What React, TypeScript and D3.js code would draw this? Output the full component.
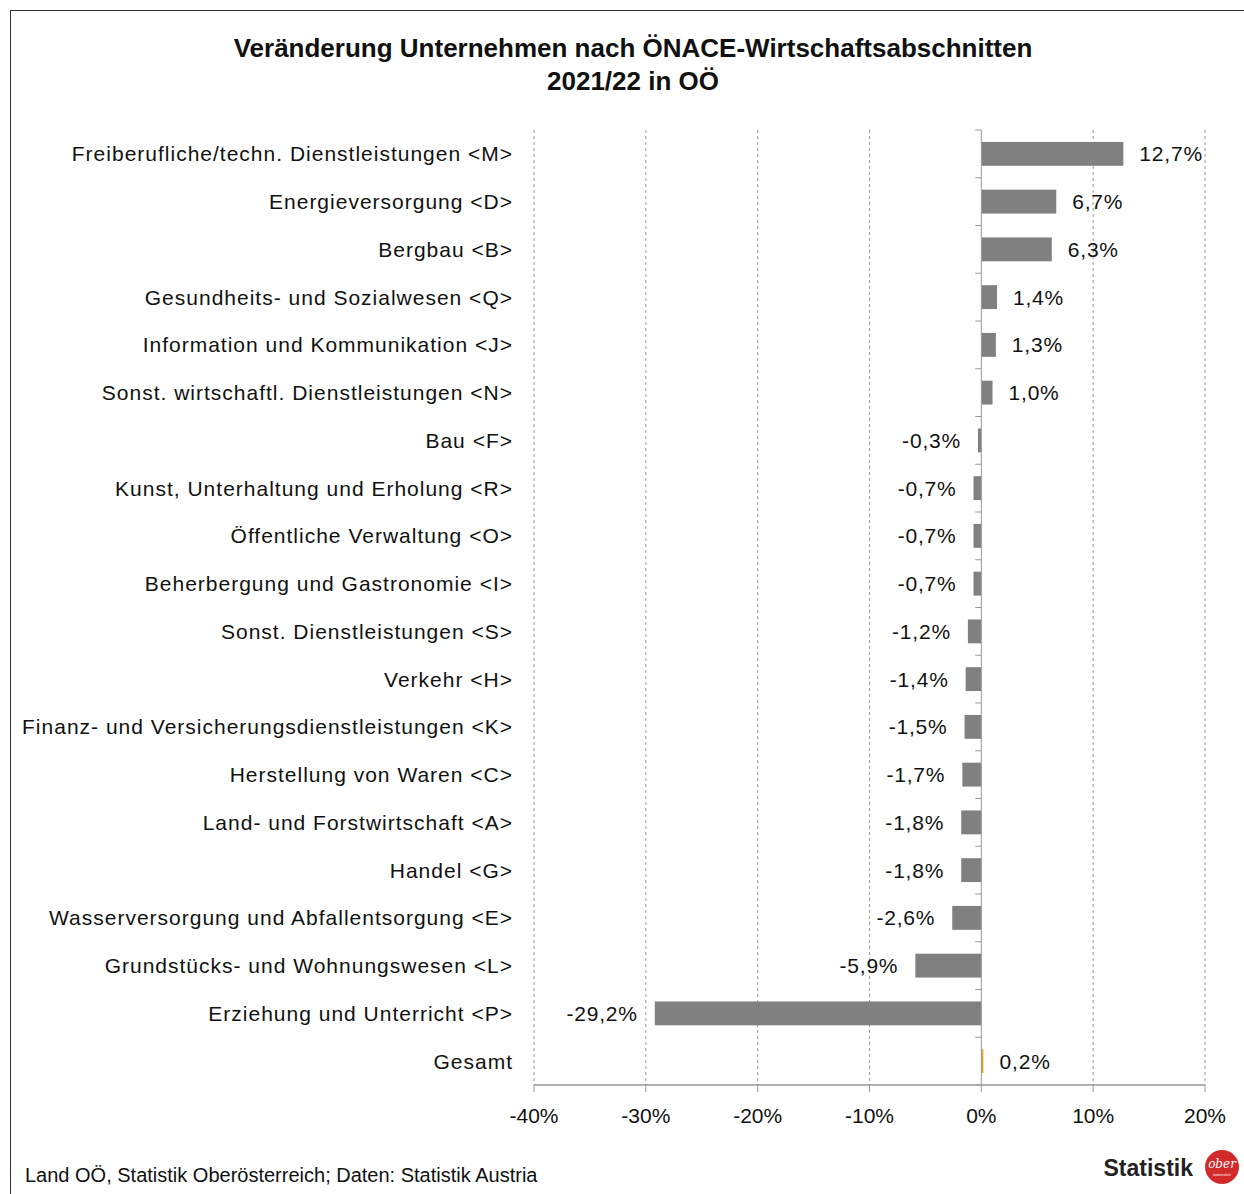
import React from 'react';
import * as d3 from 'd3';

// categories (top to bottom) and their change in percent
const categories = [
  'Freiberufliche/techn. Dienstleistungen <M>',
  'Energieversorgung <D>',
  'Bergbau <B>',
  'Gesundheits- und Sozialwesen <Q>',
  'Information und Kommunikation <J>',
  'Sonst. wirtschaftl. Dienstleistungen <N>',
  'Bau <F>',
  'Kunst, Unterhaltung und Erholung <R>',
  'Öffentliche Verwaltung <O>',
  'Beherbergung und Gastronomie <I>',
  'Sonst. Dienstleistungen <S>',
  'Verkehr <H>',
  'Finanz- und Versicherungsdienstleistungen <K>',
  'Herstellung von Waren <C>',
  'Land- und Forstwirtschaft <A>',
  'Handel <G>',
  'Wasserversorgung und Abfallentsorgung <E>',
  'Grundstücks- und Wohnungswesen <L>',
  'Erziehung und Unterricht <P>',
  'Gesamt',
];
const values = [12.7, 6.7, 6.3, 1.4, 1.3, 1.0, -0.3, -0.7, -0.7, -0.7, -1.2, -1.4, -1.5, -1.7, -1.8, -1.8, -2.6, -5.9, -29.2, 0.2];
const xTicks = [-40, -30, -20, -10, 0, 10, 20];

const W = 1244;
const H = 1194;
const font = '"Liberation Sans", Arial, sans-serif';

export default function App() {
  const x = d3.scaleLinear().domain([-40, 20]).range([534, 1205]);
  const y = d3.scaleBand().domain(categories).range([130, 1085]).paddingInner(0.5).paddingOuter(0.25);
  const fmt = (v: number) => v.toFixed(1).replace('.', ',') + '%';
  const x0 = x(0);
  const yBottom = 1085;

  return (
    <svg width={W} height={H} style={{ position: 'absolute', left: 0, top: 0, background: '#fff' }}>
      <rect x={10.5} y={10.5} width={W + 10} height={H + 10} fill="#fff" stroke="#333" strokeWidth={1} />
      <text x={633} y={57} textAnchor="middle" fontFamily={font} fontWeight="bold" fontSize={26} fill="#111">
        Veränderung Unternehmen nach ÖNACE-Wirtschaftsabschnitten
      </text>
      <text x={633} y={90} textAnchor="middle" fontFamily={font} fontWeight="bold" fontSize={26} fill="#111">
        2021/22 in OÖ
      </text>

      {/* vertical dashed gridlines */}
      {xTicks.filter(t => t !== 0).map(t => (
        <line key={t} x1={x(t)} x2={x(t)} y1={130} y2={yBottom} stroke="#999" strokeDasharray="3,3" strokeWidth={1} />
      ))}

      {/* bars */}
      {categories.map((c, i) => {
        const v = values[i];
        const isTotal = c === 'Gesamt';
        const bx = Math.min(x(v), x0);
        const bw = Math.max(Math.abs(x(v) - x0), 1);
        return (
          <rect key={c} x={bx} y={y(c)} width={isTotal ? 2 : bw} height={y.bandwidth()} fill={isTotal ? '#E8A317' : '#808080'} />
        );
      })}

      {/* value labels */}
      {categories.map((c, i) => {
        const v = values[i];
        const cy = (y(c) as number) + y.bandwidth() / 2;
        return (
          <text key={c} x={v >= 0 ? x(v) + 16 : x(v) - 17} y={cy} dy="0.36em" textAnchor={v >= 0 ? 'start' : 'end'}
            fontFamily={font} fontSize={21} letterSpacing={0.8} fill="#111">
            {fmt(v)}
          </text>
        );
      })}

      {/* category axis */}
      <line x1={x0} x2={x0} y1={130} y2={yBottom} stroke="#999" strokeWidth={1} />
      {d3.range(categories.length + 1).map(i => {
        const ty = 130 + (i * (yBottom - 130)) / categories.length;
        return <line key={i} x1={x0 - 6} x2={x0} y1={ty} y2={ty} stroke="#999" />;
      })}
      {categories.map(c => (
        <text key={c} x={513} y={(y(c) as number) + y.bandwidth() / 2} dy="0.36em" textAnchor="end"
          fontFamily={font} fontSize={21} letterSpacing={1} fill="#111">
          {c}
        </text>
      ))}

      {/* value axis */}
      <line x1={534} x2={1205} y1={yBottom} y2={yBottom} stroke="#999" strokeWidth={1.5} />
      {xTicks.map(t => (
        <g key={t}>
          <line x1={x(t)} x2={x(t)} y1={yBottom} y2={yBottom + 7} stroke="#999" />
          <text x={x(t)} y={1123} textAnchor="middle" fontFamily={font} fontSize={21} fill="#111">
            {t + '%'}
          </text>
        </g>
      ))}

      {/* footer */}
      <text x={25} y={1182} fontFamily={font} fontSize={20} fill="#111">
        Land OÖ, Statistik Oberösterreich; Daten: Statistik Austria
      </text>
      <text x={1193} y={1176} textAnchor="end" fontFamily={font} fontWeight="bold" fontSize={23} fill="#222">
        Statistik
      </text>
      <circle cx={1222} cy={1167} r={17} fill="#d22a2a" />
      <text x={1222} y={1168} textAnchor="middle" fontFamily='"DejaVu Serif", serif' fontStyle="italic" fontSize={12} fill="#fff">
        ober
      </text>
      <text x={1222} y={1176} textAnchor="middle" fontFamily={font} fontSize={4} fill="#fff">
        österreich
      </text>
    </svg>
  );
}
